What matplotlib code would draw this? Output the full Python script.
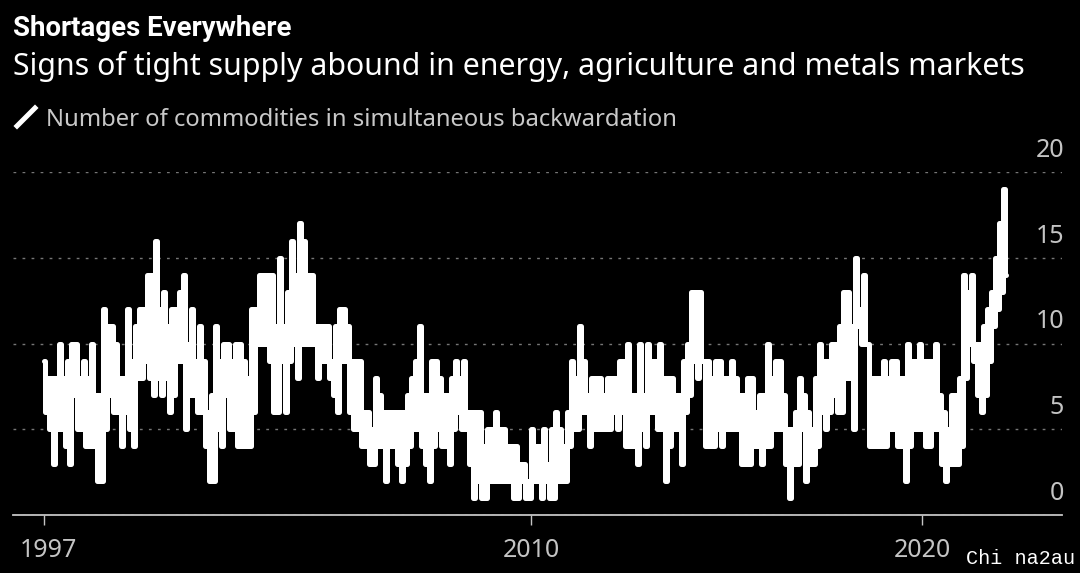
import matplotlib
matplotlib.use("Agg")
import matplotlib.pyplot as plt
from matplotlib.transforms import ScaledTranslation
import numpy as np

# =============================
# Data (high and low of each short period)
# =============================
upper = [
    9, 8, 8, 8, 10, 8, 9, 10, 10, 8, 9, 8, 10, 7, 7, 12,
    11, 11, 10, 8, 8, 12, 9, 11, 12, 12, 14, 14, 16, 12, 13,
    11, 12, 12, 13, 14, 10, 12, 9, 11, 9, 6, 7, 11, 9, 10, 10,
    9, 10, 10, 9, 8, 12, 12, 14, 14, 14, 14, 11, 15, 11, 13, 16,
    14, 17, 16, 14, 14, 11, 11, 11, 11, 9, 11, 12, 12, 11, 9, 9,
    9, 6, 6, 5, 8, 7, 6, 6, 6, 6, 6, 6, 7, 8, 9, 11,
    7, 7, 9, 9, 8, 7, 7, 8, 9, 8, 9, 6, 6, 6, 6, 4,
    5, 5, 6, 5, 5, 4, 4, 4, 3, 3, 2, 5, 4, 4, 5, 3,
    5, 6, 5, 4, 6, 9, 8, 11, 9, 7, 8, 8, 8, 7, 8, 8,
    8, 9, 9, 10, 7, 7, 10, 7, 10, 9, 9, 10, 8, 8, 8, 7,
    7, 9, 10, 13, 13, 13, 9, 9, 8, 9, 9, 8, 8, 9, 8, 7,
    7, 8, 8, 6, 7, 7, 10, 8, 9, 9, 7, 5, 5, 6, 8, 7,
    6, 5, 8, 10, 9, 9, 10, 10, 11, 13, 13, 11, 15, 12, 14, 10,
    8, 8, 8, 9, 8, 9, 9, 8, 8, 10, 9, 9, 10, 9, 9, 9,
    10, 7, 6, 5, 7, 7, 8, 14, 13, 14, 10, 10, 11, 12, 13, 15,
    17, 19,
]
lower = [
    6, 5, 3, 5, 5, 4, 3, 7, 5, 5, 4, 4, 4, 2, 2, 5,
    7, 6, 6, 4, 6, 5, 4, 8, 8, 9, 8, 7, 8, 7, 8,
    6, 7, 9, 9, 5, 7, 7, 6, 6, 4, 2, 2, 5, 4, 7, 5,
    5, 4, 4, 4, 4, 6, 10, 10, 10, 9, 6, 6, 9, 6, 9, 10,
    8, 10, 10, 10, 10, 8, 9, 9, 8, 7, 6, 9, 9, 6, 5, 5,
    4, 4, 3, 3, 4, 4, 2, 4, 4, 3, 2, 3, 4, 5, 5, 4,
    3, 2, 4, 5, 4, 4, 3, 5, 6, 5, 5, 3, 1, 2, 1, 1,
    2, 2, 2, 2, 2, 2, 1, 1, 2, 1, 1, 2, 2, 1, 2, 1,
    1, 2, 2, 2, 4, 5, 5, 6, 6, 4, 5, 5, 5, 5, 5, 6,
    5, 6, 4, 4, 4, 3, 5, 4, 6, 6, 5, 5, 2, 4, 5, 5,
    3, 6, 7, 9, 8, 9, 4, 4, 4, 5, 4, 5, 5, 5, 5, 3,
    3, 3, 4, 4, 3, 4, 4, 5, 5, 5, 3, 1, 3, 3, 5, 2,
    3, 3, 4, 6, 5, 6, 7, 6, 6, 8, 8, 5, 11, 10, 10, 4,
    4, 4, 4, 4, 5, 5, 4, 4, 2, 4, 5, 5, 5, 4, 4, 5,
    5, 3, 2, 3, 3, 3, 4, 8, 10, 9, 7, 6, 7, 9, 11, 12,
    13, 14,
]
year_labels = ["1997", "2010", "2020"]
year_positions = [0, 121.75, 219.5]
y_ticks = [0, 5, 10, 15, 20]

title = "Shortages Everywhere"
subtitle = "Signs of tight supply abound in energy, agriculture and metals markets"
legend_label = "Number of commodities in simultaneous backwardation"

FONT = "Noto Sans"
W, H = 1080, 573

# =============================
# Figure
# =============================
fig = plt.figure(figsize=(W / 100, H / 100), dpi=100, facecolor="black")
ax = fig.add_axes([13 / W, 1 - 515 / H, (1062 - 13) / W, (515 - 172) / H], facecolor="black")

counts = np.empty(len(upper) + len(lower))
counts[0::2] = upper
counts[1::2] = lower
periods = np.arange(len(counts)) / 2

ax.plot(periods, counts, color="white", lw=3.6, drawstyle="steps-mid",
        solid_joinstyle="round", solid_capstyle="round", zorder=3, clip_on=False)

ax.set_xlim(-7.75, 254.5)
ax.set_ylim(0, 20)

for s in ["top", "left", "right"]:
    ax.spines[s].set_visible(False)
ax.spines["bottom"].set_color("#c4c4c4")
ax.spines["bottom"].set_linewidth(1.3)

ax.set_yticks(y_ticks)
ax.set_yticklabels([])
ax.tick_params(axis="y", length=0)
ax.grid(axis="y", color="#767676", lw=1.0, linestyle=(0, (2, 4.5)), zorder=1)

ax.set_xticks(year_positions)
ax.set_xticklabels(year_labels)
ax.tick_params(axis="x", length=7.5, width=1, color="#c4c4c4", labelcolor="#c4c4c4",
               labelsize=18, pad=9)
for lab in ax.get_xticklabels():
    lab.set_fontfamily(FONT)
# premiere etiquette decalee comme sur l'original
first = ax.get_xticklabels()[0]
first.set_transform(first.get_transform() + ScaledTranslation(4 / 100, 0, fig.dpi_scale_trans))

# labels de l'axe y, au-dessus des lignes
for v in y_ticks:
    ax.annotate(str(v), xy=(1, v), xycoords=ax.get_yaxis_transform(), xytext=(1.5, 15.5),
                textcoords="offset points", ha="right", va="center",
                color="#c4c4c4", fontsize=18, family=FONT)

# =============================
# Textes
# =============================
fig.text(13 / W, 1 - 28 / H, title, color="white", fontsize=19.9, fontweight="bold",
         family="Roboto", va="center", ha="left")
fig.text(13 / W, 1 - 67 / H, subtitle, color="white", fontsize=21.8, family=FONT,
         va="center", ha="left")
fig.text(46 / W, 1 - 120 / H, legend_label, color="#c8c8c8", fontsize=17.15, family=FONT,
         va="center", ha="left")
fig.add_artist(plt.Line2D([17 / W, 35 / W], [1 - 126 / H, 1 - 108 / H], color="white",
                          lw=3.6, transform=fig.transFigure))

# filigrane
fig.text(1075 / W, 1 - 559 / H, "Chi na2au", color="white", fontsize=14.5,
         family="Liberation Mono", va="center", ha="right")

fig.savefig("out.png", dpi=100, facecolor="black")
